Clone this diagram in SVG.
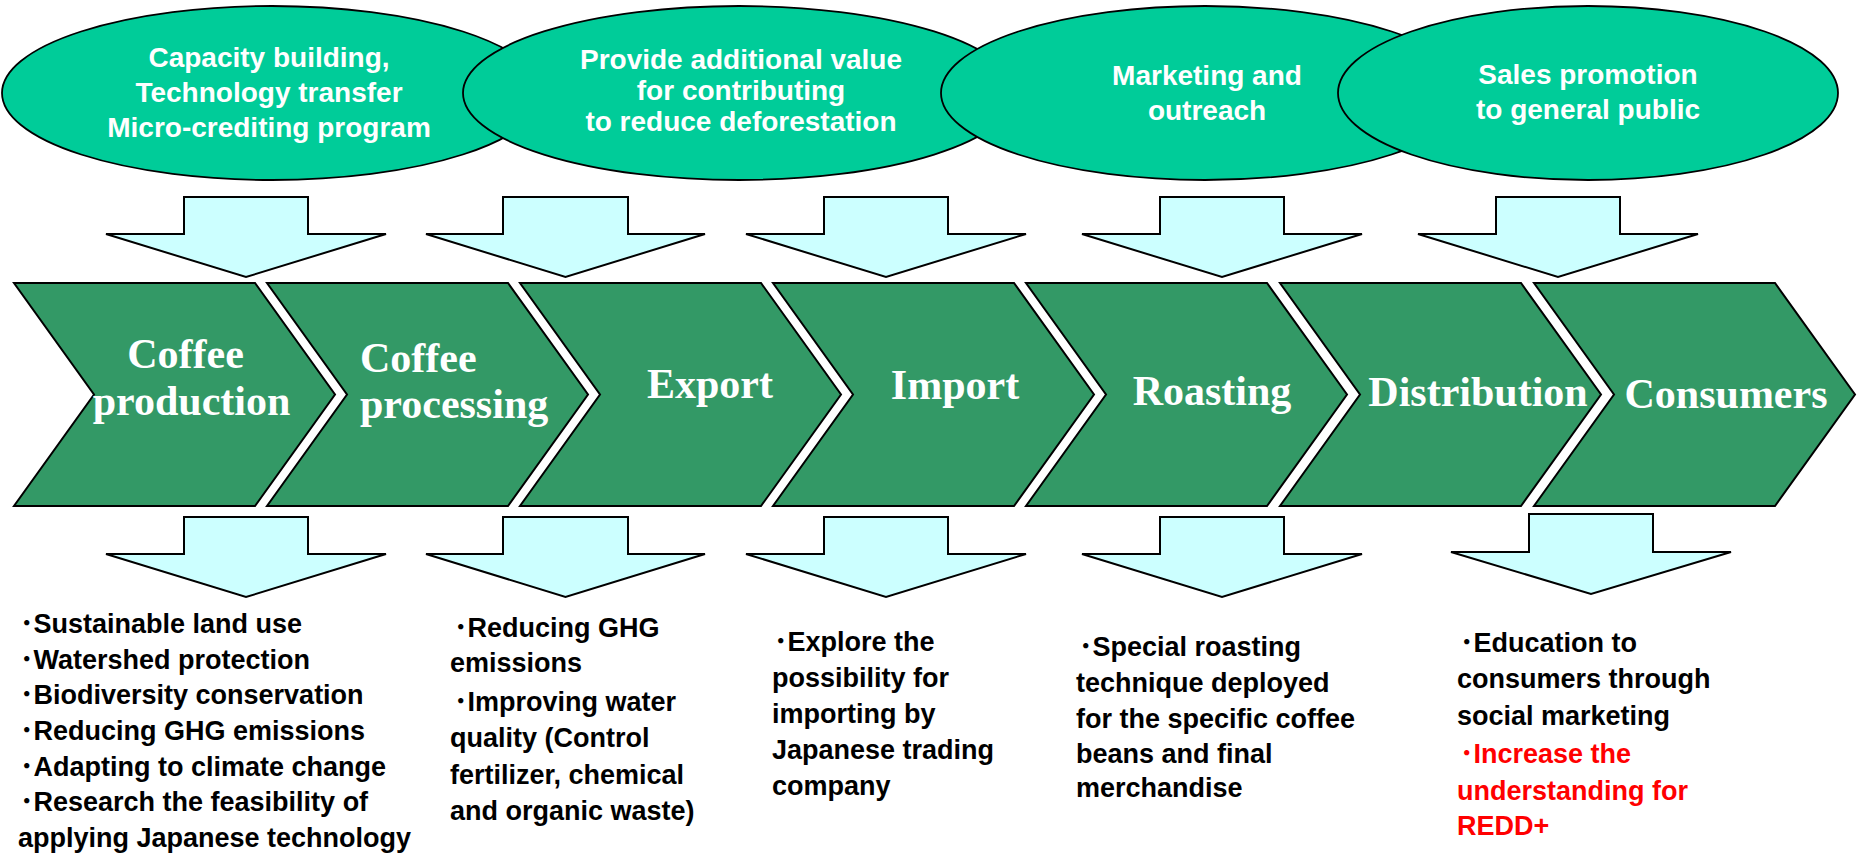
<svg xmlns="http://www.w3.org/2000/svg" width="1864" height="858" viewBox="0 0 1864 858">
<style>
.ell{fill:#00CC99;stroke:#000;stroke-width:1.8}
.et{font-family:"Liberation Sans","Noto Sans CJK JP",sans-serif;font-weight:bold;font-size:28px;fill:#fff;text-anchor:middle}
.chev{fill:#339966;stroke:#000;stroke-width:2}
.ct{font-family:"Liberation Serif",serif;font-weight:bold;font-size:42px;fill:#fff}
.arr{fill:#CCFFFF;stroke:#000;stroke-width:2}
.bt{font-family:"Liberation Sans","Noto Sans CJK JP",sans-serif;font-weight:bold;font-size:27px;fill:#000}
.red{fill:#FF0000}
</style>
<rect width="1864" height="858" fill="#fff"/>

<g id="ellipse1"><ellipse class="ell" cx="272" cy="93" rx="270" ry="87"/>
<text class="et" x="269" y="67">Capacity building,</text>
<text class="et" x="269" y="102">Technology transfer</text>
<text class="et" x="269" y="137">Micro-crediting program</text></g>
<g id="ellipse2"><ellipse class="ell" cx="739" cy="93" rx="276" ry="87"/>
<text class="et" x="741" y="69">Provide additional value</text>
<text class="et" x="741" y="100">for contributing</text>
<text class="et" x="741" y="131">to reduce deforestation</text></g>
<g id="ellipse3"><ellipse class="ell" cx="1205" cy="93" rx="264" ry="87"/>
<text class="et" x="1207" y="85">Marketing and</text>
<text class="et" x="1207" y="120">outreach</text></g>
<g id="ellipse4"><ellipse class="ell" cx="1588" cy="93" rx="250" ry="87"/>
<text class="et" x="1588" y="84">Sales promotion</text>
<text class="et" x="1588" y="119">to general public</text></g>

<g id="connectors">
<path class="arr" d="M184,197H308V234H386L246,277L106,234H184Z"/>
<path class="arr" d="M503,197H628V234H705L565.5,277L426,234H503Z"/>
<path class="arr" d="M824,197H948V234H1026L886,277L746,234H824Z"/>
<path class="arr" d="M1160,197H1284V234H1362L1222,277L1082,234H1160Z"/>
<path class="arr" d="M1496,197H1620V234H1698L1558,277L1418,234H1496Z"/>
<path class="arr" d="M184,517H308V554H386L246,597L106,554H184Z"/>
<path class="arr" d="M503,517H628V554H705L565.5,597L426,554H503Z"/>
<path class="arr" d="M824,517H948V554H1026L886,597L746,554H824Z"/>
<path class="arr" d="M1160,517H1284V554H1362L1222,597L1082,554H1160Z"/>
<path class="arr" d="M1529,514H1653V552H1731L1591,594L1451,552H1529Z"/>
</g>

<g id="chev1"><path class="chev" d="M14,283H255L335,394.5L255,506H14L94,394.5Z"/>
<text class="ct" x="185.5" y="368" text-anchor="middle">Coffee</text>
<text class="ct" x="191.5" y="415" text-anchor="middle">production</text></g>
<g id="chev2"><path class="chev" d="M267,283H508L588,394.5L508,506H267L347,394.5Z"/>
<text class="ct" x="360" y="372">Coffee</text>
<text class="ct" x="360" y="418">processing</text></g>
<g id="chev3"><path class="chev" d="M520,283H761L841,394.5L761,506H520L600,394.5Z"/>
<text class="ct" x="710" y="398" text-anchor="middle">Export</text></g>
<g id="chev4"><path class="chev" d="M773,283H1014L1094,394.5L1014,506H773L853,394.5Z"/>
<text class="ct" x="955" y="399" text-anchor="middle">Import</text></g>
<g id="chev5"><path class="chev" d="M1026,283H1267L1347,394.5L1267,506H1026L1106,394.5Z"/>
<text class="ct" x="1212" y="405" text-anchor="middle">Roasting</text></g>
<g id="chev6"><path class="chev" d="M1280,283H1521L1601,394.5L1521,506H1280L1360,394.5Z"/>
<text class="ct" x="1478" y="406" text-anchor="middle">Distribution</text></g>
<g id="chev7"><path class="chev" d="M1534,283H1775L1855,394.5L1775,506H1534L1614,394.5Z"/>
<text class="ct" x="1726" y="408" text-anchor="middle">Consumers</text></g>

<g id="text1">
<text class="bt" x="20" y="633">･Sustainable land use</text>
<text class="bt" x="20" y="669">･Watershed protection</text>
<text class="bt" x="20" y="704">･Biodiversity conservation</text>
<text class="bt" x="20" y="740">･Reducing GHG emissions</text>
<text class="bt" x="20" y="776">･Adapting to climate change</text>
<text class="bt" x="20" y="811">･Research the feasibility of</text>
<text class="bt" x="18" y="847">applying Japanese technology</text>
</g>
<g id="text2">
<text class="bt" x="454" y="637">･Reducing GHG</text>
<text class="bt" x="450" y="672">emissions</text>
<text class="bt" x="454" y="711">･Improving water</text>
<text class="bt" x="450" y="747">quality (Control</text>
<text class="bt" x="450" y="784">fertilizer, chemical</text>
<text class="bt" x="450" y="820">and organic waste)</text>
</g>
<g id="text3">
<text class="bt" x="774" y="651">･Explore the</text>
<text class="bt" x="772" y="687">possibility for</text>
<text class="bt" x="772" y="723">importing by</text>
<text class="bt" x="772" y="759">Japanese trading</text>
<text class="bt" x="772" y="795">company</text>
</g>
<g id="text4">
<text class="bt" x="1079" y="656">･Special roasting</text>
<text class="bt" x="1076" y="692">technique deployed</text>
<text class="bt" x="1076" y="728">for the specific coffee</text>
<text class="bt" x="1076" y="763">beans and final</text>
<text class="bt" x="1076" y="797">merchandise</text>
</g>
<g id="text5">
<text class="bt" x="1460" y="652">･Education to</text>
<text class="bt" x="1457" y="688">consumers through</text>
<text class="bt" x="1457" y="725">social marketing</text>
<text class="bt red" x="1460" y="763">･Increase the</text>
<text class="bt red" x="1457" y="800">understanding for</text>
<text class="bt red" x="1457" y="835">REDD+</text>
</g>
</svg>
